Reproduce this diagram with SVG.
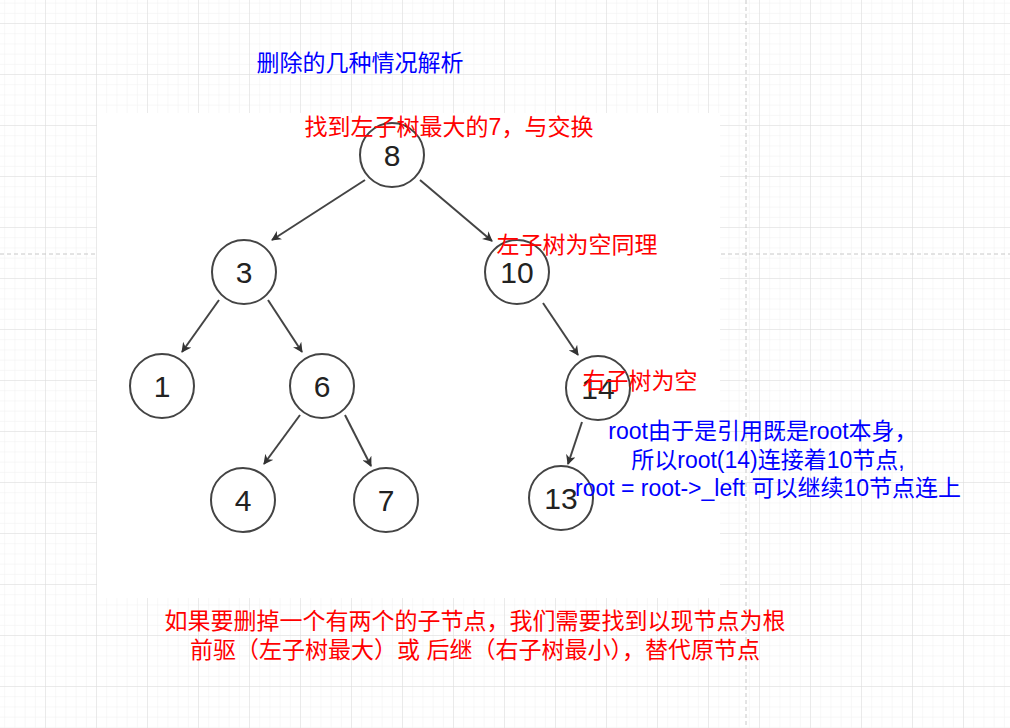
<svg xmlns="http://www.w3.org/2000/svg" width="1010" height="728" viewBox="0 0 1010 728">
<defs>
<pattern id="minor" x="5.2" y="3.6" width="10.2" height="10.2" patternUnits="userSpaceOnUse"><path d="M10.2 0V10.2M0 10.2H10.2" fill="none" stroke="#f0f0f0" stroke-width="1"/></pattern>
<pattern id="major" x="-5" y="-27" width="51" height="51" patternUnits="userSpaceOnUse"><path d="M51 0V51M0 51H51" fill="none" stroke="#dcdcdc" stroke-width="1"/></pattern>
<marker id="ar" markerWidth="10" markerHeight="10" refX="9" refY="5" orient="auto" markerUnits="userSpaceOnUse"><path d="M0 0L10 5L0 10L3 5Z" fill="#333"/></marker>
</defs>
<style>
.n circle{fill:#fff;stroke:#444;stroke-width:2}
.n text{font-family:"Liberation Sans",Arial,sans-serif;font-size:30px;fill:#222;text-anchor:middle}
.e line{stroke:#444;stroke-width:2;marker-end:url(#ar)}
.t{font-family:"Liberation Sans","Noto Sans CJK SC",sans-serif;font-size:23px}
</style>
<rect width="1010" height="728" fill="#fff"/>
<rect width="1010" height="728" fill="url(#minor)"/>
<rect width="1010" height="728" fill="url(#major)"/>
<line x1="746" y1="0" x2="746" y2="728" stroke="#c8c8c8" stroke-dasharray="4 3"/>
<line x1="0" y1="254" x2="1010" y2="254" stroke="#c8c8c8" stroke-dasharray="4 3"/>
<rect x="97" y="113" width="623" height="485" fill="#fff"/>
<g id="edges" class="e">
<line x1="365" y1="180" x2="272" y2="240"/>
<line x1="420" y1="180" x2="492" y2="241"/>
<line x1="219" y1="300" x2="182" y2="352"/>
<line x1="268" y1="300" x2="302" y2="352"/>
<line x1="543" y1="303" x2="578" y2="355"/>
<line x1="300" y1="415" x2="264" y2="464"/>
<line x1="345" y1="415" x2="371" y2="466"/>
<line x1="582" y1="422" x2="568" y2="464"/>
</g>
<g id="n8" class="n"><circle cx="392" cy="155" r="32"/><text x="392" y="166">8</text></g>
<g id="n3" class="n"><circle cx="244" cy="272" r="32"/><text x="244" y="283">3</text></g>
<g id="n10" class="n"><circle cx="517" cy="272" r="32"/><text x="517" y="283">10</text></g>
<g id="n1" class="n"><circle cx="162" cy="386" r="32"/><text x="162" y="397">1</text></g>
<g id="n6" class="n"><circle cx="322" cy="386" r="32"/><text x="322" y="397">6</text></g>
<g id="n14" class="n"><circle cx="598" cy="388" r="32"/><text x="598" y="399">14</text></g>
<g id="n4" class="n"><circle cx="243" cy="500" r="32"/><text x="243" y="511">4</text></g>
<g id="n7" class="n"><circle cx="386" cy="500" r="32"/><text x="386" y="511">7</text></g>
<g id="n13" class="n"><circle cx="561" cy="498" r="32"/><text x="561" y="509">13</text></g>
<g id="labels">
<text class="t" x="360" y="71" fill="#0000ff" text-anchor="middle">删除的几种情况解析</text>
<text class="t" x="449" y="135" fill="#ff0000" text-anchor="middle">找到左子树最大的7，与交换</text>
<text class="t" x="577" y="253" fill="#ff0000" text-anchor="middle">左子树为空同理</text>
<text class="t" x="640" y="389" fill="#ff0000" text-anchor="middle">右子树为空</text>
<text class="t" x="763" y="439" fill="#0000ff" text-anchor="middle">root由于是引用既是root本身，</text>
<text class="t" x="768" y="468" fill="#0000ff" text-anchor="middle">所以root(14)连接着10节点,</text>
<text class="t" x="768" y="496" fill="#0000ff" text-anchor="middle">root = root-&gt;_left 可以继续10节点连上</text>
<text class="t" x="475" y="629" fill="#ff0000" text-anchor="middle">如果要删掉一个有两个的子节点，我们需要找到以现节点为根</text>
<text class="t" x="475" y="658" fill="#ff0000" text-anchor="middle">前驱（左子树最大）或 后继（右子树最小），替代原节点</text>
</g>
</svg>
